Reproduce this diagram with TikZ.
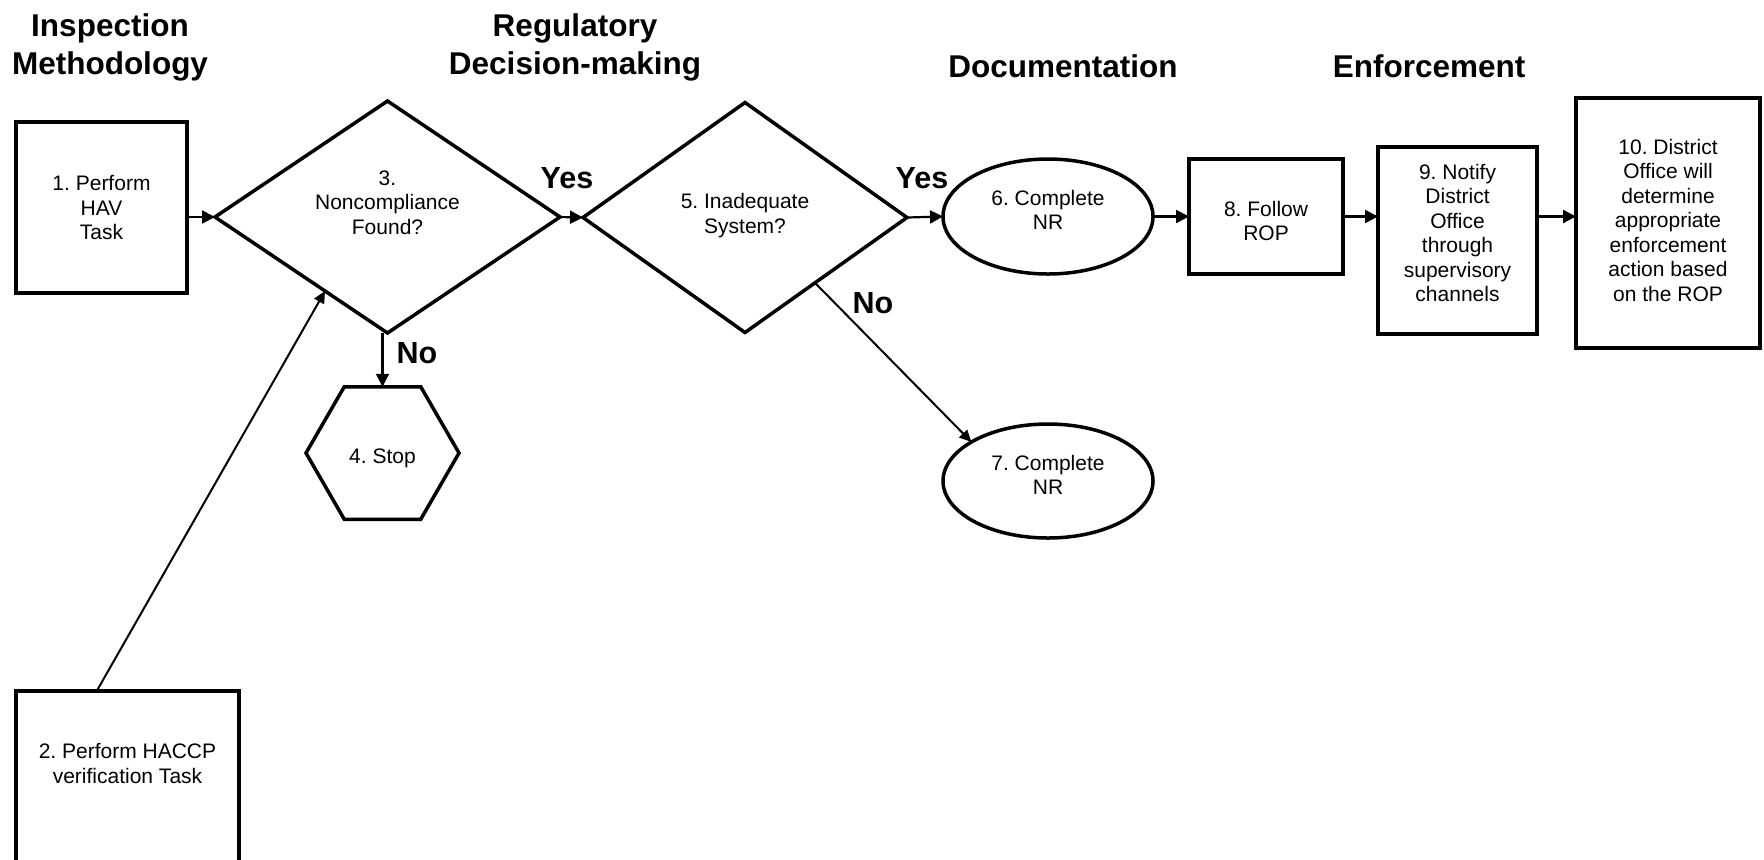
\documentclass[tikz,border=0pt]{standalone}
\usepackage{fontspec}
\setmainfont{Liberation Sans}
\usetikzlibrary{shapes.geometric,arrows.meta,calc}
\frenchspacing
\begin{document}
\begin{tikzpicture}[x=0.5pt,y=-0.5pt,
  shapeline/.style={draw, line width=1.75pt, inner sep=0pt, outer sep=0pt},
  boxnode/.style={shapeline, rectangle},
  lbl/.style={font=\fontsize{10.5}{12.25}\selectfont\frenchspacing, align=center, inner sep=0pt},
  titletext/.style={font=\fontsize{15.75}{19}\selectfont\bfseries, align=center, inner sep=0pt},
  yn/.style={font=\fontsize{15.25}{18}\selectfont\bfseries, inner sep=0pt},
  flow/.style={line width=1.1pt, -{Triangle[length=6.5pt,width=6.5pt]}},
  thinflow/.style={line width=1pt, -{Triangle[length=6pt,width=5.5pt]}},
]
\useasboundingbox (0,0) rectangle (1764,859);

% titles
\node[titletext] (t1) at (110,47) {Inspection\\Methodology};
\node[titletext] (t2) at (575,47) {Regulatory\\Decision-making};
\node[titletext] (t3) at (1063,66) {Documentation};
\node[titletext] (t4) at (1429,66) {Enforcement};

% nodes
\node[boxnode, minimum width=85.5pt, minimum height=85.5pt,
  label={[lbl]center:1. Perform\\HAV\\Task}] (b1) at (101.5,207.5) {};
\node[boxnode, minimum width=111.5pt, minimum height=104.5pt,
  label={[lbl, yshift=16pt]center:2. Perform HACCP\\verification Task}] (b2) at (127.5,795.5) {};
\node[shapeline, diamond, minimum width=172.5pt, minimum height=116pt,
  label={[lbl, yshift=7.25pt]center:3.\\Noncompliance\\Found?}] (d3) at (387.5,217) {};
\node[shapeline, regular polygon, regular polygon sides=6, minimum size=76.5pt,
  label={[lbl, yshift=-2.5pt]center:4. Stop}] (s4) at (382.5,453) {};
\node[shapeline, diamond, minimum width=162pt, minimum height=115pt,
  label={[lbl, yshift=1pt]center:5. Inadequate\\System?}] (d5) at (745,217.5) {};
\node[shapeline, ellipse, minimum width=105pt, minimum height=57.5pt,
  label={[lbl, yshift=3.25pt]center:6. Complete\\NR}] (e6) at (1048,216.5) {};
\node[shapeline, ellipse, minimum width=105pt, minimum height=57pt,
  label={[lbl, yshift=3pt]center:7. Complete\\NR}] (e7) at (1048,481) {};
\node[boxnode, minimum width=77pt, minimum height=57.5pt,
  label={[lbl, yshift=-2.25pt]center:8. Follow\\ROP}] (b8) at (1266,216.5) {};
\node[boxnode, minimum width=79.5pt, minimum height=93.5pt,
  label={[lbl, yshift=3.75pt]center:9. Notify\\District\\Office\\through\\supervisory\\channels}] (b9) at (1457.5,240.5) {};
\node[boxnode, minimum width=92pt, minimum height=125pt,
  label={[lbl, yshift=1.5pt]center:10. District\\Office will\\determine\\appropriate\\enforcement\\action based\\on the ROP}] (b10) at (1668,223) {};

% connectors
\draw[flow] (b1.east |- d3.west) -- (d3.west);
\draw[flow] (d3.east) -- (d5.west);
\draw[flow] (d5.east) -- (e6.west);
\draw[flow] (e6.east) -- (b8.west);
\draw[flow] (b8.east) -- (b8.east -| b9.west);
\draw[flow] (b9.east |- b8.east) -- (b10.west |- b8.east);
\draw[flow] (s4.north |- d3.south) -- (s4.north);
\draw[thinflow] ($(b2.north west)!0.362!(b2.north east)$) -- ($(d3.west)!0.638!(d3.south)$);
\draw[thinflow] ($(d5.east)!0.568!(d5.south)$) -- (e7.153);

% branch labels
\node[yn] (yes1) at (567,178) {Yes};
\node[yn] (yes2) at (922,178) {Yes};
\node[yn] (no1) at (417,353) {No};
\node[yn] (no2) at (873,303) {No};
\end{tikzpicture}
\end{document}
